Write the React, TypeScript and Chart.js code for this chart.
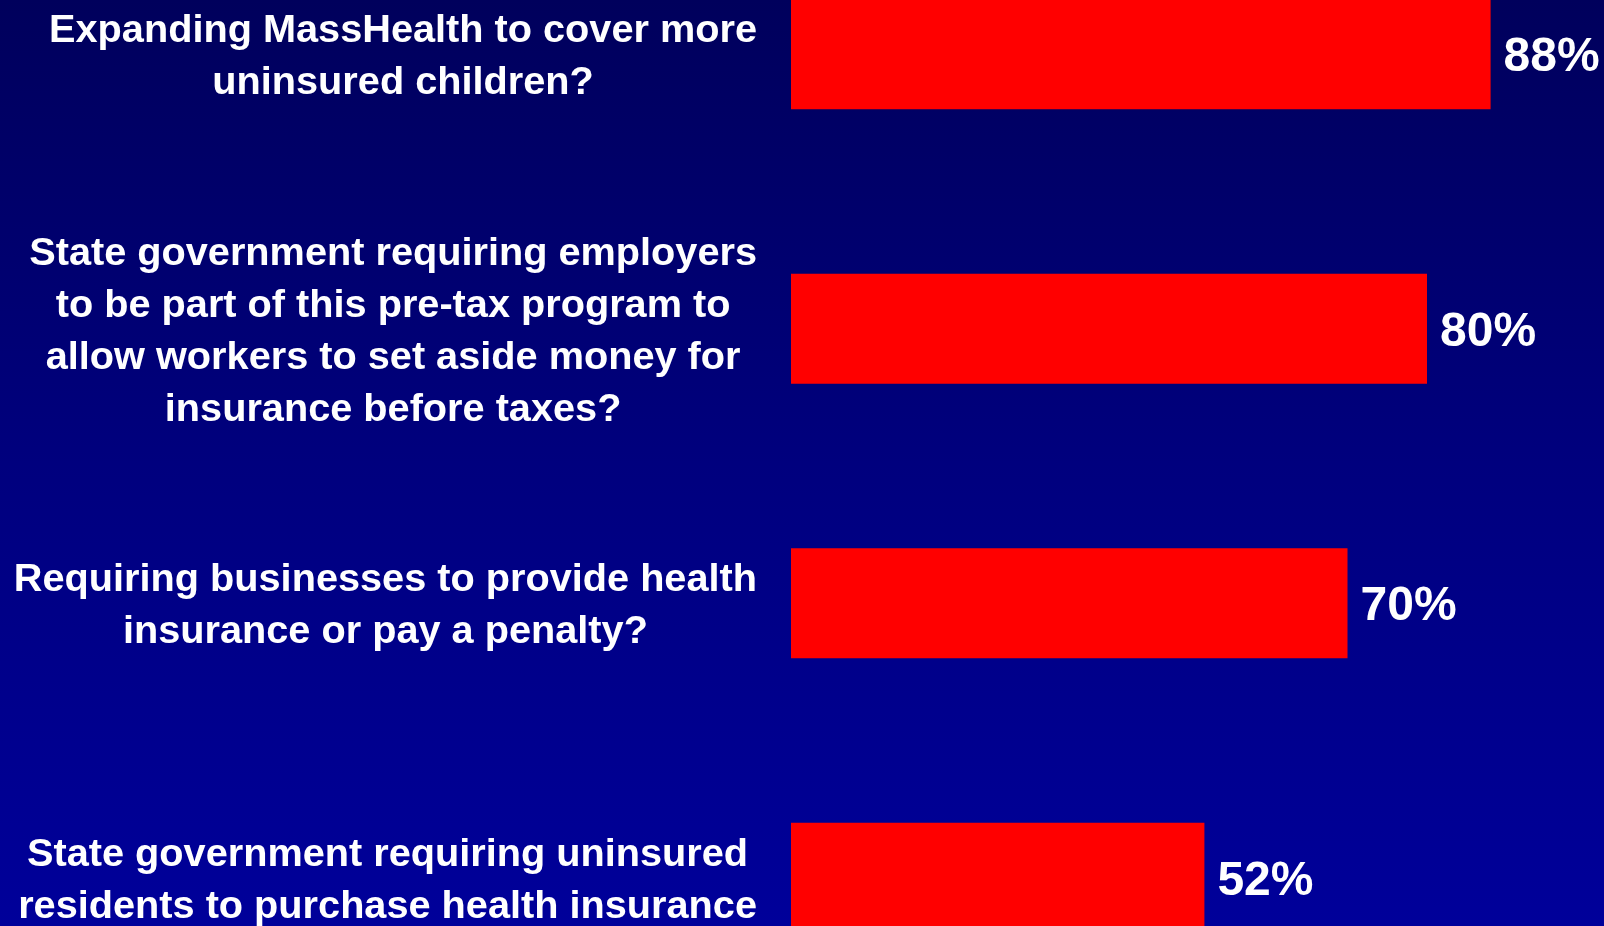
import React, { useEffect, useRef } from "react";
import { Chart, registerables } from "chart.js";

Chart.register(...registerables);

const categories: string[][] = [
  ["Expanding MassHealth to cover more", "uninsured children?"],
  [
    "State government requiring employers",
    "to be part of this pre-tax program to",
    "allow workers to set aside money for",
    "insurance before taxes?",
  ],
  ["Requiring businesses to provide health", "insurance or pay a penalty?"],
  ["State government requiring uninsured", "residents to purchase health insurance"],
];
const values: number[] = [88, 80, 70, 52];
const valueLabels: string[] = ["88%", "80%", "70%", "52%"];

const FONT = "'Liberation Sans', Arial, sans-serif";

const labelPlugin = {
  id: "customLabels",
  afterDatasetsDraw(chart: any) {
    const ctx = chart.ctx;
    const yScale = chart.scales.y;
    const meta = chart.getDatasetMeta(0);
    ctx.save();
    ctx.fillStyle = "#ffffff";
    // category labels: block right-aligned, lines centered within block
    ctx.font = `bold 39.7px ${FONT}`;
    ctx.textAlign = "center";
    ctx.textBaseline = "middle";
    const rightEdge = yScale.right - 34;
    const lh = 52;
    categories.forEach((lines, i) => {
      const cy = yScale.getPixelForTick(i);
      const widest = Math.max(...lines.map((l) => ctx.measureText(l).width));
      const cx = rightEdge - widest / 2;
      const startY = cy - ((lines.length - 1) * lh) / 2;
      lines.forEach((l, j) => ctx.fillText(l, cx, startY + j * lh + 3));
    });
    // value labels
    ctx.font = `bold 48px ${FONT}`;
    ctx.textAlign = "left";
    ctx.textBaseline = "alphabetic";
    meta.data.forEach((bar: any, i: number) => {
      ctx.fillText(valueLabels[i], bar.x + 13, bar.y + 17);
    });
    ctx.restore();
  },
};

export default function App() {
  const ref = useRef<HTMLCanvasElement>(null);
  useEffect(() => {
    document.body.style.margin = "0";
    document.body.style.overflow = "hidden";
    const chart = new Chart(ref.current!, {
      type: "bar",
      data: {
        labels: categories,
        datasets: [
          {
            data: values,
            backgroundColor: "#ff0000",
            borderWidth: 0,
            categoryPercentage: 1,
            barPercentage: 0.4,
          },
        ],
      },
      options: {
        indexAxis: "y",
        animation: false,
        responsive: false,
        maintainAspectRatio: false,
        layout: { padding: { top: 0, bottom: 0, left: 0, right: 18 } },
        plugins: { legend: { display: false }, tooltip: { enabled: false } },
        scales: {
          x: { display: false, min: 0, max: 100 },
          y: {
            display: true,
            border: { display: false },
            grid: { display: false },
            ticks: { display: false },
            afterFit: (scale: any) => {
              scale.width = 791;
            },
          },
        },
      },
      plugins: [labelPlugin],
    });
    return () => chart.destroy();
  }, []);
  return (
    <div
      style={{
        position: "fixed",
        left: 0,
        top: 0,
        width: 1604,
        height: 926,
        overflow: "hidden",
        background: "linear-gradient(to bottom, #00005C 0%, #00007E 50%, #00009A 100%)",
      }}
    >
      <canvas
        ref={ref}
        width={1604}
        height={1098}
        style={{ position: "absolute", left: 0, top: -83, width: 1604, height: 1098 }}
      />
    </div>
  );
}
